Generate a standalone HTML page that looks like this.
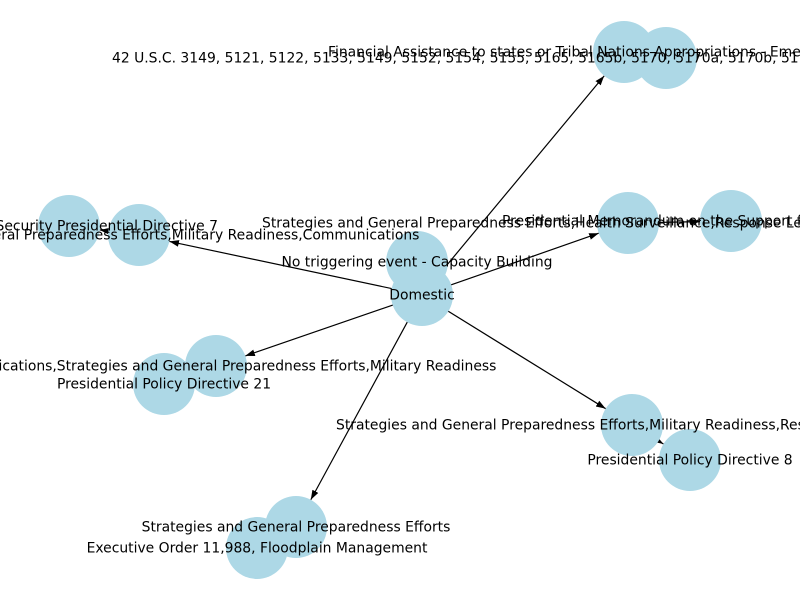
<!DOCTYPE html>
<html><head><meta charset="utf-8"><style>
html,body{margin:0;padding:0;background:#fff;}
svg{display:block;font-family:"DejaVu Sans","Liberation Sans",sans-serif;}
</style></head><body>
<svg id="g" width="800" height="600" viewBox="0 0 800 600">
<defs><marker id="ah" viewBox="0 0 10 10" refX="10" refY="5" markerWidth="8" markerHeight="8" orient="auto-start-reverse"><path d="M0,1.5 L10,5 L0,8.5 z" fill="#000"/></marker></defs>
<g id="edges"></g><g id="nodes"></g><g id="labels"></g>
</svg>
<script>
const nodeX = [422,417,624,666,628,731,69,139,216,164,632,690,296,257];
const nodeY = [295,262,52,58,223,221,226,235,366,384,425,460,527,548];
const labelText = ["Domestic","No triggering event - Capacity Building","Financial Assistance to states or Tribal Nations Appropriations - Emergency Management","42 U.S.C. 3149, 5121, 5122, 5133, 5149, 5152, 5154, 5155, 5165, 5165b, 5170, 5170a, 5170b, 5170c, 5172","Presidential Memorandum on the Support for Health Security","Strategies and General Preparedness Efforts,Health Surveillance,Response Leadership","Homeland Security Presidential Directive 7","Strategies and General Preparedness Efforts,Military Readiness,Communications","Communications,Strategies and General Preparedness Efforts,Military Readiness","Presidential Policy Directive 21","Strategies and General Preparedness Efforts,Military Readiness,Response","Presidential Policy Directive 8","Strategies and General Preparedness Efforts","Executive Order 11,988, Floodplain Management"];
const labelX = [422,417,328,112,502,262,69,139,216,164,336,690,296,257];
const labelY = [295,262,52,58,221,223,226,235,366,384,425,460,527,548];
const labelAnchor = ["middle","middle","start","start","start","start","middle","middle","middle","middle","start","middle","middle","middle"];
const edgeFrom = [0,0,0,0,0,0,4,7,10];
const edgeTo = [2,4,7,8,10,12,5,6,11];
const R = 31;
const NS="http://www.w3.org/2000/svg";
const eg=document.getElementById('edges'), ng=document.getElementById('nodes'), lg=document.getElementById('labels');
for(let i=0;i<edgeFrom.length;i++){
  const a=edgeFrom[i], b=edgeTo[i];
  const dx=nodeX[b]-nodeX[a], dy=nodeY[b]-nodeY[a], d=Math.hypot(dx,dy);
  const l=document.createElementNS(NS,'line');
  l.setAttribute('x1',nodeX[a]+dx/d*R*0.3); l.setAttribute('y1',nodeY[a]+dy/d*R*0.3);
  l.setAttribute('x2',nodeX[b]-dx/d*R); l.setAttribute('y2',nodeY[b]-dy/d*R);
  l.setAttribute('stroke','#000'); l.setAttribute('stroke-width','1.2');
  l.setAttribute('marker-end','url(#ah)');
  
  
  eg.appendChild(l);
}
for(let i=0;i<nodeX.length;i++){
  const c=document.createElementNS(NS,'circle');
  c.setAttribute('cx',nodeX[i]); c.setAttribute('cy',nodeY[i]); c.setAttribute('r',R);
  c.setAttribute('fill','#add8e6');
  
  
  ng.appendChild(c);
}
for(let i=0;i<labelText.length;i++){
  const t=document.createElementNS(NS,'text');
  t.setAttribute('x',labelX[i]); t.setAttribute('y',labelY[i]+4.5);
  t.setAttribute('text-anchor',labelAnchor[i]); t.setAttribute('font-size','13.9');
  t.textContent=labelText[i];
  
  
  lg.appendChild(t);
}
</script>
</body></html>
